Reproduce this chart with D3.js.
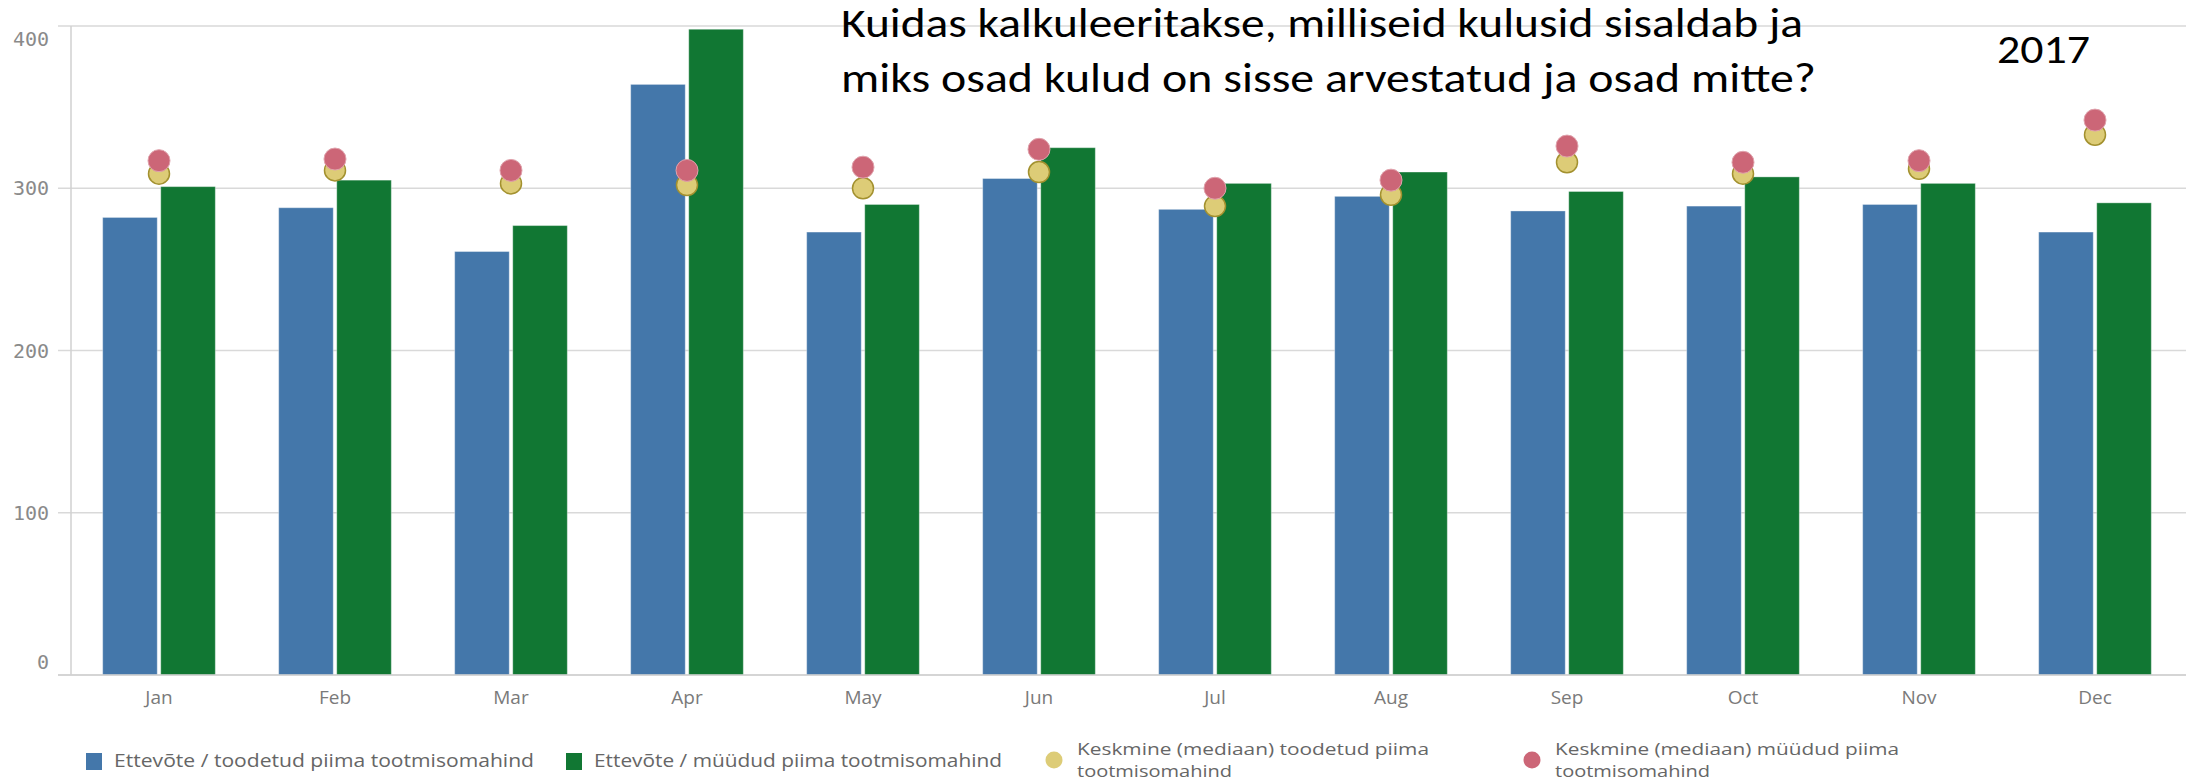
<!DOCTYPE html>
<html>
<head>
<meta charset="utf-8">
<script src="https://cdn.jsdelivr.net/npm/d3@7"></script>
<style>
  html, body { margin: 0; padding: 0; background: #fff; }
  #chart { width: 2190px; height: 783px; }
</style>
</head>
<body>
<div id="chart"></div>
<script>
var months = ['Jan','Feb','Mar','Apr','May','Jun','Jul','Aug','Sep','Oct','Nov','Dec'];
var toodetud = [282, 288, 261, 364, 273, 306, 287, 295, 286, 289, 290, 273];
var muudud = [301, 305, 277, 398, 290, 325, 303, 310, 298, 307, 303, 291];
var medToodetud = [309, 311, 303, 302, 300, 310, 289, 296, 316, 309, 312, 333];
var medMuudud = [317, 318, 311, 311, 313, 324, 300, 305, 326, 316, 317, 342];
var yTicks = [0, 100, 200, 300, 400];
var titleLines = ['Kuidas kalkuleeritakse, milliseid kulusid sisaldab ja', 'miks osad kulud on sisse arvestatud ja osad mitte?'];
var yearLabel = '2017';
var legendItems = [
  { key: 'toodetud', shape: 'rect', lines: ['Ettevõte / toodetud piima tootmisomahind'] },
  { key: 'muudud', shape: 'rect', lines: ['Ettevõte / müüdud piima tootmisomahind'] },
  { key: 'medToodetud', shape: 'circle', lines: ['Keskmine (mediaan) toodetud piima', 'tootmisomahind'] },
  { key: 'medMuudud', shape: 'circle', lines: ['Keskmine (mediaan) müüdud piima', 'tootmisomahind'] }
];

(function() {
  var COLORS = { toodetud: '#4477aa', muudud: '#117733', medToodetud: '#ddcc77', medMuudud: '#cc6677' };
  var FONT = "'Open Sans', 'Noto Sans', sans-serif";
  var TITLE_FONT = "Carlito, Calibri, 'Liberation Sans', sans-serif";
  var W = 2190, H = 783;
  var margin = { top: 26, right: 7, bottom: 108, left: 71 };
  var iw = W - margin.left - margin.right;
  var ih = H - margin.top - margin.bottom;

  var svg = d3.select('#chart').append('svg').attr('width', W).attr('height', H);
  var g = svg.append('g').attr('transform', 'translate(' + margin.left + ',' + margin.top + ')');

  // Scales
  var x0 = d3.scaleBand().domain(months).range([0, iw]).paddingInner(0.36).paddingOuter(0.18);
  var x1 = d3.scaleBand().domain(['toodetud', 'muudud']).range([0, x0.bandwidth()]).paddingInner(0.06);
  var y = d3.scaleLinear().domain([0, 400]).range([ih, 0]);

  // Grid
  g.append('g').selectAll('line').data(yTicks).join('line')
    .attr('x1', -13).attr('x2', iw + 3)
    .attr('y1', function(d) { return y(d); }).attr('y2', function(d) { return y(d); })
    .attr('stroke', '#d9d9d9').attr('stroke-width', 1.5);

  // Y axis line
  g.append('line').attr('x1', 0).attr('x2', 0).attr('y1', 0).attr('y2', ih)
    .attr('stroke', '#d0d0d0').attr('stroke-width', 1.5);

  // Y tick labels (edge labels pushed inside)
  g.append('g').selectAll('text').data(yTicks).join('text')
    .attr('x', -22)
    .attr('y', function(d) { return y(d); })
    .attr('dy', function(d, i) { return i === 0 ? '-0.3em' : (i === yTicks.length - 1 ? '1.0em' : '0.35em'); })
    .attr('text-anchor', 'end')
    .attr('font-family', "'DejaVu Sans Mono', monospace").attr('font-size', '20px')
    .attr('fill', '#8a8a8a')
    .text(function(d) { return d; });

  // Bars
  var groups = g.append('g').selectAll('g').data(months).join('g')
    .attr('transform', function(d) { return 'translate(' + x0(d) + ',0)'; });

  groups.selectAll('rect').data(function(d, i) {
    return [{ key: 'toodetud', v: toodetud[i] }, { key: 'muudud', v: muudud[i] }];
  }).join('rect')
    .attr('x', function(d) { return x1(d.key); })
    .attr('y', function(d) { return y(d.v); })
    .attr('width', x1.bandwidth())
    .attr('height', function(d) { return ih - y(d.v); })
    .attr('fill', function(d) { return COLORS[d.key]; })
    .attr('stroke', '#ffffff').attr('stroke-opacity', 0.35).attr('stroke-width', 1);

  // X axis line
  g.append('line').attr('x1', -13).attr('x2', iw + 3).attr('y1', ih).attr('y2', ih)
    .attr('stroke', '#d0d0d0').attr('stroke-width', 1.5);

  // X labels
  g.append('g').selectAll('text').data(months).join('text')
    .attr('x', function(d) { return x0(d) + x0.bandwidth() / 2; })
    .attr('y', ih + 29)
    .attr('text-anchor', 'middle')
    .attr('font-family', FONT).attr('font-size', '19px')
    .attr('fill', '#7a7a7a')
    .text(function(d) { return d; });

  // Median points: yellow under red
  var cx = function(d, i) { return x0(months[i]) + x0.bandwidth() / 2; };
  g.append('g').selectAll('circle').data(medToodetud).join('circle')
    .attr('cx', cx).attr('cy', function(d) { return y(d); }).attr('r', 10.5)
    .attr('fill', COLORS.medToodetud).attr('stroke', '#a3912f').attr('stroke-width', 1.5);
  g.append('g').selectAll('circle').data(medMuudud).join('circle')
    .attr('cx', cx).attr('cy', function(d) { return y(d); }).attr('r', 11)
    .attr('fill', COLORS.medMuudud).attr('stroke', '#e0a3ad').attr('stroke-width', 1);

  // Title overlay
  var titleX = [841, 841], titleY = [37, 92], titleW = [962, 975];
  titleLines.forEach(function(t, i) {
    svg.append('text').attr('x', titleX[i]).attr('y', titleY[i])
      .attr('font-family', TITLE_FONT).attr('font-size', '40px').attr('fill', '#000')
      .attr('textLength', titleW[i]).attr('lengthAdjust', 'spacingAndGlyphs')
      .text(t);
  });
  svg.append('text').attr('x', 1997).attr('y', 63)
    .attr('font-family', TITLE_FONT).attr('font-size', '40px').attr('fill', '#000')
    .attr('textLength', 93).attr('lengthAdjust', 'spacingAndGlyphs')
    .text(yearLabel);

  // Legend
  var legX = [86, 566, 1046, 1524];
  var legW = [[420], [408], [352, 155], [344, 155]];
  var leg = svg.append('g');
  legendItems.forEach(function(item, i) {
    var lg = leg.append('g').attr('transform', 'translate(' + legX[i] + ',0)');
    if (item.shape === 'rect') {
      lg.append('rect').attr('x', 0).attr('y', 753).attr('width', 16).attr('height', 17)
        .attr('fill', COLORS[item.key]);
    } else {
      lg.append('circle').attr('cx', 8).attr('cy', 760).attr('r', 8.5)
        .attr('fill', COLORS[item.key]);
    }
    var tx = item.shape === 'rect' ? 28 : 31;
    var size = item.lines.length === 1 ? 18 : 16;
    var baseY = item.lines.length === 1 ? 767 : 755;
    item.lines.forEach(function(line, j) {
      lg.append('text').attr('x', tx).attr('y', baseY + j * 22)
        .attr('font-family', FONT).attr('font-size', size + 'px').attr('fill', '#666')
        .attr('textLength', legW[i][j]).attr('lengthAdjust', 'spacingAndGlyphs')
        .text(line);
    });
  });
})();
</script>
</body>
</html>
